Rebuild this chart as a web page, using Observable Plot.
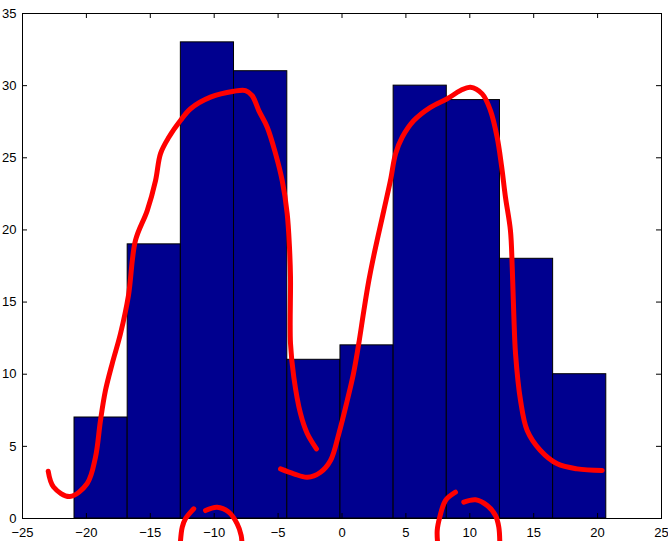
<!DOCTYPE html>
<html>
<head>
<meta charset="utf-8">
<script src="https://cdn.jsdelivr.net/npm/d3@7"></script>
<script src="https://cdn.jsdelivr.net/npm/@observablehq/plot@0.6"></script>
<style>
  html, body { margin: 0; padding: 0; background: #fff; }
</style>
</head>
<body>
<div id="chart"></div>
<script>
// Histogram bins
const binEdges = [-20.93, -16.77, -12.61, -8.45, -4.28, -0.12, 4.04, 8.20, 12.36, 16.52, 20.68];
const counts = [7, 19, 33, 31, 11, 12, 30, 29, 18, 10];

const xTicks = [-25, -20, -15, -10, -5, 0, 5, 10, 15, 20, 25];
const yTicks = [0, 5, 10, 15, 20, 25, 30, 35];

// Hand-drawn red strokes (data units)
const leftHumpX = [-22.99, -22.57, -21.30, -19.94, -19.29, -18.90, -18.51, -17.98, -17.33, -16.71, -16.16, -15.24, -14.59, -14.20, -13.55, -12.64, -11.85, -10.29, -8.47, -7.55, -7.03, -6.51, -5.85, -5.20, -4.68, -4.29, -4.11, -4.03, -4.03, -3.77, -3.25, -2.72, -2.00];
const leftHumpY = [3.28, 2.18, 1.52, 2.43, 4.25, 6.79, 8.87, 10.74, 12.82, 15.45, 19.27, 21.34, 23.42, 25.29, 26.42, 27.58, 28.40, 29.20, 29.61, 29.66, 29.31, 28.27, 27.12, 25.29, 23.42, 21.14, 18.80, 16.72, 12.13, 9.79, 7.28, 5.89, 4.83];

const rightHumpX = [-4.81, -3.77, -2.72, -1.68, -0.90, -0.25, 0.41, 0.90, 1.31, 1.71, 2.10, 2.49, 3.27, 3.79, 4.19, 4.71, 5.62, 6.92, 8.23, 9.27, 10.05, 10.97, 11.62, 12.14, 12.48, 12.79, 13.18, 13.32, 13.44, 13.58, 13.97, 14.49, 15.53, 16.84, 18.40, 20.36];
const rightHumpY = [3.44, 3.10, 2.86, 3.21, 4.02, 5.87, 8.18, 10.05, 12.11, 14.41, 16.49, 18.23, 21.34, 23.42, 25.27, 26.42, 27.58, 28.50, 29.09, 29.66, 29.89, 29.43, 28.27, 26.42, 24.46, 22.27, 19.96, 17.42, 14.19, 11.41, 8.18, 6.10, 4.71, 3.79, 3.44, 3.33];

const circleL1X = [-11.60, -12.25, -12.50, -12.64];
const circleL1Y = [0.67, -0.02, -0.60, -1.59];
const circleL2X = [-10.68, -9.77, -8.86, -8.20, -7.89, -7.82];
const circleL2Y = [0.55, 0.78, 0.44, -0.37, -1.18, -1.87];
const circleR1X = [8.88, 8.10, 7.65, 7.45, 7.50];
const circleR1Y = [1.82, 1.25, 0.09, -0.83, -1.87];
const circleR2X = [9.53, 10.45, 11.36, 12.01, 12.27, 12.35];
const circleR2Y = [1.13, 1.30, 0.90, 0.21, -0.60, -1.87];

const bars = counts.map((c, i) => ({x1: binEdges[i], x2: binEdges[i + 1], y: c}));

const strokes = [
  ["leftHump", leftHumpX, leftHumpY],
  ["rightHump", rightHumpX, rightHumpY],
  ["cL1", circleL1X, circleL1Y],
  ["cL2", circleL2X, circleL2Y],
  ["cR1", circleR1X, circleR1Y],
  ["cR2", circleR2X, circleR2Y]
];
const ink = strokes.flatMap(([id, xs, ys]) => xs.map((x, i) => ({id, x, y: ys[i]})));

const W = 668, H = 541;
const mL = 22, mR = 7, mT = 13, mB = 23;
const plotH = H - mT - mB, plotW = W - mL - mR;
const T = 5;

const fmt = d => d < 0 ? "\u2212" + Math.abs(d) : String(d);

const chart = Plot.plot({
  width: W,
  height: H,
  marginLeft: mL,
  marginRight: mR,
  marginTop: mT,
  marginBottom: mB,
  style: {fontFamily: "'Liberation Sans', Arial, Helvetica, sans-serif", fontSize: "13px", color: "black", background: "white", overflow: "visible"},
  x: {domain: [-25, 25], nice: false},
  y: {domain: [0, 35], nice: false},
  marks: [
    Plot.rectY(bars, {x1: "x1", x2: "x2", y: "y", fill: "#00008f", stroke: "black", strokeWidth: 1}),
    Plot.frame({stroke: "black", strokeWidth: 1}),
    // inward ticks
    Plot.ruleX(xTicks, {x: d => d, insetTop: plotH - T, stroke: "black"}),
    Plot.ruleX(xTicks, {x: d => d, insetBottom: plotH - T, stroke: "black"}),
    Plot.ruleY(yTicks, {y: d => d, insetRight: plotW - T, stroke: "black"}),
    Plot.ruleY(yTicks, {y: d => d, insetLeft: plotW - T, stroke: "black"}),
    Plot.axisX({ticks: xTicks, tickSize: 0, tickPadding: 9, tickFormat: fmt, label: null}),
    Plot.axisY({ticks: yTicks, tickSize: 0, tickPadding: 6, tickFormat: fmt, label: null}),
    Plot.line(ink, {x: "x", y: "y", z: "id", stroke: "#ff0000", strokeWidth: 5, strokeLinecap: "round", strokeLinejoin: "round", curve: "catmull-rom"})
  ]
});
document.getElementById("chart").appendChild(chart);
</script>
</body>
</html>
